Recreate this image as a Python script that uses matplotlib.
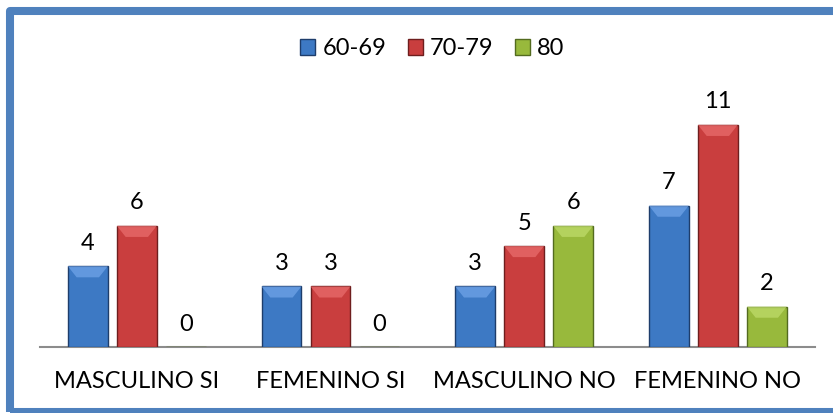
import matplotlib.pyplot as plt
import numpy as np
from matplotlib.patches import Polygon, Patch
from matplotlib.lines import Line2D

plt.rcParams['font.family'] = ['Lato', 'DejaVu Sans']

categories = ["MASCULINO SI", "FEMENINO SI", "MASCULINO NO", "FEMENINO NO"]
series_names = ["60-69", "70-79", "80"]
values_60_69 = [4, 3, 3, 7]
values_70_79 = [6, 3, 5, 11]
values_80 = [0, 0, 6, 2]

face_colors = ["#3D79C4", "#C93E3E", "#98B93C"]
edge_colors = ["#1E3D6B", "#6E1E1E", "#536B1F"]
top_colors = ["#6FA3E8", "#E96C6C", "#BEDB6A"]


def draw_bars(ax):

    x = np.arange(len(categories))
    offset = 0.253
    width = 0.206

    all_values = [values_60_69, values_70_79, values_80]

    for i, vals in enumerate(all_values):

        bars = ax.bar(
            x + (i - 1) * offset,
            vals,
            width=width,
            color=face_colors[i],
            edgecolor=edge_colors[i],
            linewidth=1.0,
            zorder=3
        )

        for bar, v in zip(bars, vals):

            # lighter bevel at the top of every bar
            if v > 0:
                x0 = bar.get_x()
                x1 = x0 + bar.get_width()
                h = bar.get_height()
                bevel = min(0.55, h * 0.5)
                inset = bar.get_width() * 0.22
                ax.add_patch(Polygon(
                    [(x0, h), (x1, h), (x1 - inset, h - bevel), (x0 + inset, h - bevel)],
                    closed=True,
                    facecolor=top_colors[i],
                    edgecolor="none",
                    alpha=0.75,
                    zorder=4
                ))

            ax.annotate(
                str(v),
                (bar.get_x() + bar.get_width() / 2, v),
                xytext=(0, 9),
                textcoords="offset points",
                ha="center",
                va="bottom",
                fontsize=17,
                color="#000000"
            )


fig = plt.figure(figsize=(8.33, 4.13), dpi=100)

ax = fig.add_axes([0.048, 0.1598, 0.930, 0.6358])

draw_bars(ax)

ax.set_xlim(-0.5, 3.5)
ax.set_ylim(0, 13)

ax.set_xticks(np.arange(len(categories)))
ax.set_xticklabels(categories, fontsize=17)
ax.tick_params(axis="x", length=0, pad=17)
ax.set_yticks([])

for side in ["top", "right", "left"]:
    ax.spines[side].set_visible(False)
ax.spines["bottom"].set_color("#8C8C8C")
ax.spines["bottom"].set_linewidth(1.5)

handles = [
    Patch(facecolor=face_colors[i], edgecolor=edge_colors[i], label=series_names[i])
    for i in range(3)
]

fig.legend(
    handles=handles,
    loc="center",
    bbox_to_anchor=(0.519, 0.882),
    ncol=3,
    frameon=False,
    fontsize=17,
    handlelength=0.65,
    handleheight=0.65,
    handletextpad=0.3,
    columnspacing=0.9
)

# chart frame: top and left as one line, bottom on its own
fig.add_artist(Line2D(
    [1.0, 10 / 833, 10 / 833],
    [1 - 11 / 413, 1 - 11 / 413, 1 - 412 / 413],
    transform=fig.transFigure,
    color="#4F81BD",
    linewidth=5.8,
    solid_joinstyle="round",
    solid_capstyle="butt",
    zorder=10
))
fig.add_artist(Line2D(
    [10 / 833, 1.0],
    [1 - 412 / 413, 1 - 412 / 413],
    transform=fig.transFigure,
    color="#4F81BD",
    linewidth=5.8,
    solid_capstyle="butt",
    zorder=10
))

plt.savefig("out.png", dpi=100)
